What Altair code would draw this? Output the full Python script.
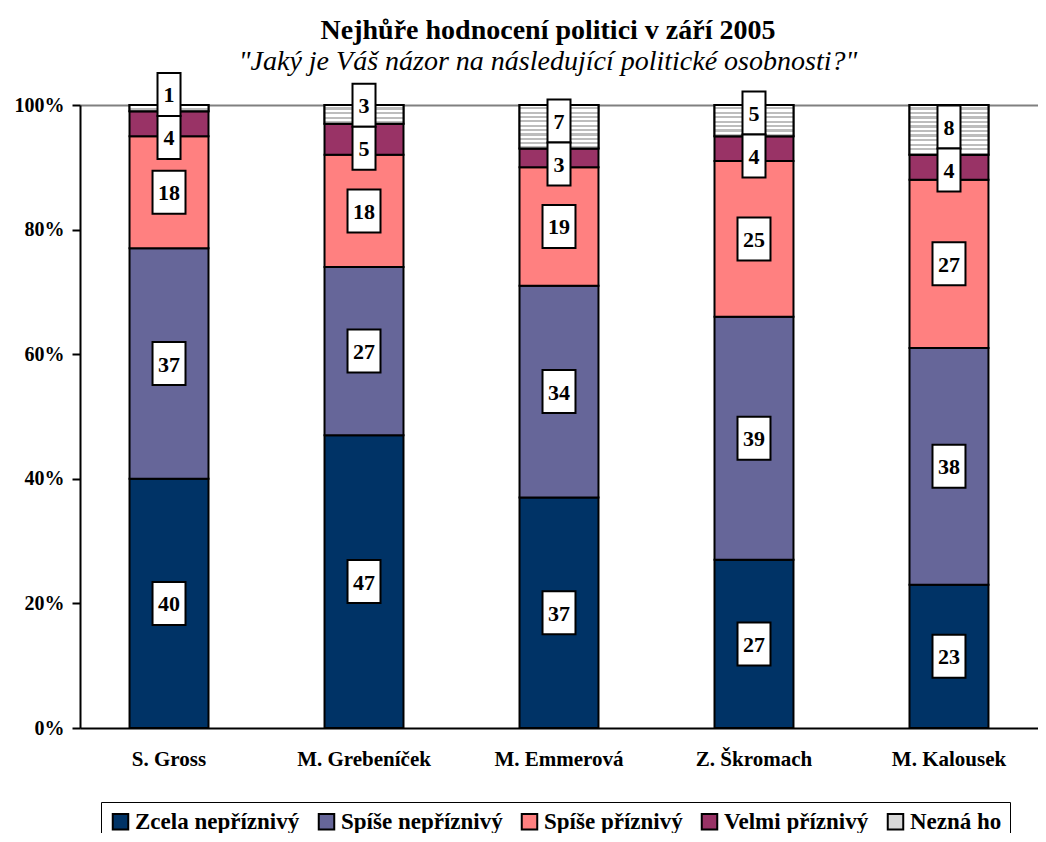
import altair as alt
import pandas as pd

# ---- data ----
politicians = ["S. Gross", "M. Grebeníček", "M. Emmerová", "Z. Škromach", "M. Kalousek"]
categories = ["Zcela nepříznivý", "Spíše nepříznivý", "Spíše příznivý", "Velmi příznivý", "Nezná ho"]
zcela = [40, 47, 37, 27, 23]
spise_nep = [37, 27, 34, 39, 38]
spise_pr = [18, 18, 19, 25, 27]
velmi = [4, 5, 3, 4, 4]
nezna = [1, 3, 7, 5, 8]
colors = ["#003366", "#666699", "#FF8080", "#993366", "#D8D8D8"]

series = [zcela, spise_nep, spise_pr, velmi, nezna]

# ---- layout constants ----
PLOT_W, PLOT_H = 958, 623
PX_PER_UNIT = PLOT_H / 100.0
BOX_H = 43 / PX_PER_UNIT   # label box height in value units

rows = []
labels = []
for pi, p in enumerate(politicians):
    cum = 0
    mids = []
    for ci, c in enumerate(categories):
        v = series[ci][pi]
        rows.append({"politik": p, "kat": c, "order": ci, "v": v, "y0": cum, "y1": cum + v})
        mids.append((cum + v / 2.0, v))
        cum += v
    # Excel-like label collision: spread overlapping labels around their mean
    mids_td = list(reversed(mids))
    clusters = [[m] for m in mids_td]
    changed = True
    while changed:
        changed = False
        for i in range(len(clusters) - 1):
            a, b = clusters[i], clusters[i + 1]
            ca = sum(x[0] for x in a) / len(a)
            cb = sum(x[0] for x in b) / len(b)
            if ca - len(a) * BOX_H / 2 < cb + len(b) * BOX_H / 2:
                clusters[i] = a + b
                del clusters[i + 1]
                changed = True
                break
    for cl in clusters:
        c = sum(x[0] for x in cl) / len(cl)
        k = len(cl)
        for j, (m, v) in enumerate(cl):
            labels.append({"politik": p, "lab": str(v), "ypos": c + (k - 1) * BOX_H / 2 - j * BOX_H,
                           "digits": str(len(str(v)))})

df = pd.DataFrame(rows)
ldf = pd.DataFrame(labels)

FONT = "Liberation Serif"

x_enc = alt.X("politik:N", sort=politicians,
              scale=alt.Scale(paddingInner=0.595, paddingOuter=0.254),
              axis=alt.Axis(title=None, labelAngle=0, labelFont=FONT, labelFontSize=21,
                            labelFontWeight="bold", labelColor="black", ticks=False,
                            domainColor="black", domainWidth=2, labelPadding=20))

y_scale = alt.Scale(domain=[0, 100], nice=False)

bars = alt.Chart(df).mark_bar(stroke="black", strokeWidth=2, strokeOpacity=1).encode(
    x=x_enc,
    y=alt.Y("y1:Q", scale=y_scale,
            axis=alt.Axis(title=None, values=[0, 20, 40, 60, 80, 100],
                          labelExpr="datum.value + '%'", labelFont=FONT, labelFontSize=20,
                          labelFontWeight="bold", labelColor="black", tickSize=8, tickWidth=2,
                          tickColor="black", domainColor="black", domainWidth=2, labelPadding=8,
                          grid=True, gridColor="#808080", gridWidth=2,
                          gridOpacity={"condition": {"test": "datum.value === 100", "value": 1}, "value": 0})),
    y2="y0:Q",
    color=alt.Color("kat:N", sort=categories,
                    scale=alt.Scale(domain=categories, range=colors),
                    legend=alt.Legend(orient="none", legendX=21, legendY=697, direction="horizontal",
                                      title=None, symbolType="square", symbolSize=240,
                                      symbolStrokeColor="black", symbolStrokeWidth=2,
                                      symbolOpacity=1, labelFont=FONT, labelFontWeight="bold",
                                      labelFontSize=23, labelColor="black", labelLimit=400,
                                      columnPadding=14, labelOffset=3, strokeColor="black",
                                      padding=8)),
    order=alt.Order("order:Q"),
)

# striped overlay for "Nezná ho" segments
stripe_layers = []
for pi, p in enumerate(politicians):
    h_px = nezna[pi] * PX_PER_UNIT
    n = max(1, round(h_px / 4.4))
    stops = []
    for k in range(n):
        a = k / n
        m = (k + 0.5) / n
        b = (k + 1) / n
        stops += [{"offset": a, "color": "#FFFFFF"}, {"offset": m, "color": "#FFFFFF"},
                  {"offset": m, "color": "#BDBDBD"}, {"offset": b, "color": "#BDBDBD"}]
    grad = {"gradient": "linear", "x1": 0, "y1": 0, "x2": 0, "y2": 1, "stops": stops}
    sub = df[(df.politik == p) & (df.kat == "Nezná ho")]
    stripe_layers.append(
        alt.Chart(sub).mark_bar(fill=grad, stroke="black", strokeWidth=2).encode(
            x=alt.X("politik:N", sort=politicians), y=alt.Y("y1:Q", scale=y_scale), y2="y0:Q"))

path2 = "M-0.767,-1L0.767,-1L0.767,1L-0.767,1Z"
path1 = "M-0.535,-1L0.535,-1L0.535,1L-0.535,1Z"

boxes = alt.Chart(ldf).mark_point(filled=True, fill="white", stroke="black", strokeWidth=2,
                                  opacity=1, fillOpacity=1).encode(
    x=alt.X("politik:N", sort=politicians),
    y=alt.Y("ypos:Q", scale=y_scale),
    shape=alt.Shape("digits:N", scale=alt.Scale(domain=["1", "2"], range=[path1, path2]), legend=None),
    size=alt.value(1849),
)

texts = alt.Chart(ldf).mark_text(font=FONT, fontSize=22, fontWeight="bold", color="black",
                                 baseline="middle", dy=1).encode(
    x=alt.X("politik:N", sort=politicians),
    y=alt.Y("ypos:Q", scale=y_scale),
    text="lab:N",
)

chart = alt.layer(bars, *stripe_layers, boxes, texts).properties(
    width=PLOT_W, height=PLOT_H,
    title=alt.Title(text="Nejhůře hodnocení politici v září 2005",
                    subtitle="\"Jaký je Váš názor na následující politické osobnosti?\"",
                    font=FONT, fontSize=28, fontWeight="bold", color="black",
                    subtitleFont=FONT, subtitleFontSize=28, subtitleFontStyle="italic",
                    subtitleColor="black", subtitlePadding=3, anchor="middle", offset=-7, dx=-11),
    autosize=alt.AutoSizeParams(type="none"),
    padding={"left": 72, "top": 97, "right": 0, "bottom": 105},
).configure_view(stroke=None).configure(background="white")

chart.save("out.html", embed_options={"renderer": "svg", "actions": False})
